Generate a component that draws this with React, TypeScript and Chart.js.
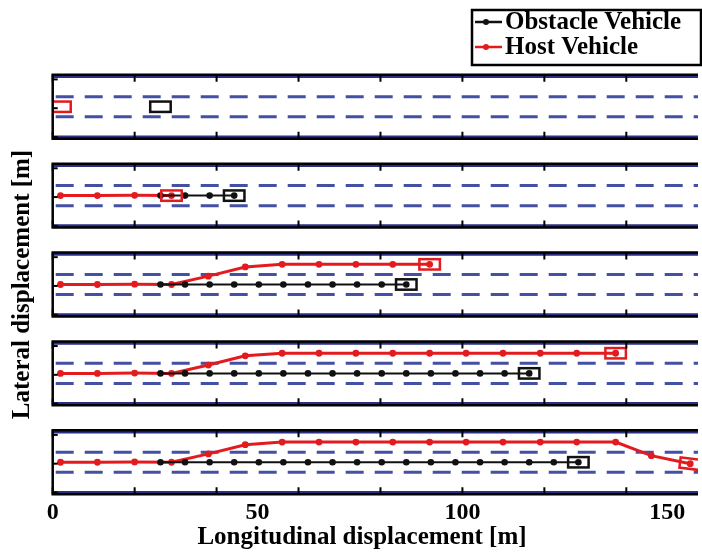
import React, { useEffect, useRef } from 'react';
import { Chart, registerables } from 'chart.js';

Chart.register(...registerables);

// ---- data ----
const hostX = [1.9, 10.9, 20.0, 29.0, 38.0, 47.0, 56.0, 65.0, 74.0, 83.0, 92.0, 100.9, 109.9, 119.0, 127.9, 137.4, 146.1, 155.6];
const hostY = [5.25, 5.25, 5.3, 5.25, 6.7, 8.3, 8.75, 8.75, 8.75, 8.75, 8.75, 8.75, 8.75, 8.75, 8.75, 8.75, 6.4, 5.0];
const obstacleX = [26.3, 32.3, 38.3, 44.3, 50.3, 56.3, 62.3, 68.3, 74.3, 80.3, 86.3, 92.3, 98.3, 104.3, 110.3, 116.3, 122.3, 128.3];
const obstacleY = [5.25, 5.25, 5.25, 5.25, 5.25, 5.25, 5.25, 5.25, 5.25, 5.25, 5.25, 5.25, 5.25, 5.25, 5.25, 5.25, 5.25, 5.25];
const snapshotSteps = [0, 3, 10, 15, 17];
const laneMarkings = [3.5, 7.0];
const roadEdges = [0, 10.5];
const xTickValues = [0, 20, 40, 60, 80, 100, 120, 140];
const yTickValues = [0, 5, 10];
const xLabelValues = [0, 50, 100, 150];
const seriesNames = ['Obstacle Vehicle', 'Host Vehicle'];
const xTitle = 'Longitudinal displacement [m]';
const yTitle = 'Lateral displacement [m]';

// ---- axis / style settings ----
const X_MAX = 157.5;
const PANEL_LO = -0.3;
const PANEL_HI = 10.8;
const PANEL_PERIOD = 15.44;
const VEH_LEN = 5;
const VEH_WID = 1.8;
const HOST_COLOR = '#e31b1f';
const OBST_COLOR = '#111111';
const DASH_COLOR = '#4450a4';
const EDGE_COLOR = '#2a2e84';
const FONT = "'Liberation Serif', 'Times New Roman', serif";

const roadPlugin = {
  id: 'roadPlugin',
  beforeDatasetsDraw(chart: any) {
    const { ctx, chartArea, scales } = chart;
    const xs = scales.x;
    ctx.save();
    ctx.beginPath();
    ctx.rect(chartArea.left, chartArea.top, chartArea.right - chartArea.left, chartArea.bottom - chartArea.top);
    ctx.clip();
    snapshotSteps.forEach((_, k) => {
      const ys = scales['y' + k];
      ctx.strokeStyle = DASH_COLOR;
      ctx.lineWidth = 3;
      ctx.setLineDash([18, 11]);
      laneMarkings.forEach((v) => {
        const py = ys.getPixelForValue(v);
        ctx.beginPath();
        ctx.moveTo(xs.getPixelForValue(0) + 3, py);
        ctx.lineTo(chartArea.right, py);
        ctx.stroke();
      });
      ctx.setLineDash([]);
      ctx.strokeStyle = EDGE_COLOR;
      ctx.lineWidth = 3;
      roadEdges.forEach((v) => {
        const py = ys.getPixelForValue(v);
        ctx.beginPath();
        ctx.moveTo(chartArea.left, py);
        ctx.lineTo(chartArea.right, py);
        ctx.stroke();
      });
    });
    ctx.restore();
  },
  afterDatasetsDraw(chart: any) {
    const { ctx, chartArea, scales } = chart;
    const xs = scales.x;
    const last = snapshotSteps.length - 1;
    // vehicle boxes
    ctx.save();
    ctx.beginPath();
    ctx.rect(chartArea.left, chartArea.top, chartArea.right - chartArea.left, chartArea.bottom - chartArea.top);
    ctx.clip();
    snapshotSteps.forEach((n, k) => {
      const ys = scales['y' + k];
      const drawBox = (xv: number, yv: number, color: string, angle: number) => {
        const cx = xs.getPixelForValue(xv);
        const cy = ys.getPixelForValue(yv);
        const w = xs.getPixelForValue(xv + VEH_LEN / 2) - xs.getPixelForValue(xv - VEH_LEN / 2);
        const h = ys.getPixelForValue(yv - VEH_WID / 2) - ys.getPixelForValue(yv + VEH_WID / 2);
        ctx.save();
        ctx.translate(cx, cy);
        ctx.rotate(angle);
        ctx.strokeStyle = color;
        ctx.lineWidth = 2.5;
        ctx.strokeRect(-w / 2, -h / 2, w, h);
        ctx.restore();
      };
      drawBox(obstacleX[n], obstacleY[n], OBST_COLOR, 0);
      let ang = 0;
      if (n > 0 && k === last) {
        const dx = xs.getPixelForValue(hostX[n]) - xs.getPixelForValue(hostX[n - 1]);
        const dy = ys.getPixelForValue(hostY[n]) - ys.getPixelForValue(hostY[n - 1]);
        ang = Math.atan2(dy, dx) * 0.6;
      }
      drawBox(hostX[n], hostY[n], HOST_COLOR, ang);
    });
    ctx.restore();

    // frames and tick marks
    ctx.save();
    snapshotSteps.forEach((_, k) => {
      const ys = scales['y' + k];
      const top = ys.getPixelForValue(PANEL_HI);
      const bot = ys.getPixelForValue(PANEL_LO);
      const left = chartArea.left;
      ctx.strokeStyle = '#000';
      ctx.lineWidth = 2.5;
      ctx.beginPath();
      ctx.moveTo(chartArea.right, top);
      ctx.lineTo(left, top);
      ctx.lineTo(left, bot);
      ctx.lineTo(chartArea.right, bot);
      ctx.stroke();
      ctx.lineWidth = 2;
      xTickValues.forEach((v) => {
        const px = xs.getPixelForValue(v);
        ctx.beginPath();
        ctx.moveTo(px, top);
        ctx.lineTo(px, top + 7);
        ctx.moveTo(px, bot);
        ctx.lineTo(px, bot - 7);
        ctx.stroke();
      });
      yTickValues.forEach((v) => {
        const py = ys.getPixelForValue(v);
        ctx.beginPath();
        ctx.moveTo(left, py);
        ctx.lineTo(left + 5, py);
        ctx.stroke();
      });
    });
    ctx.restore();
  },
  afterDraw(chart: any) {
    const { ctx } = chart;
    ctx.save();
    // legend
    const bx = 472, by = 10, bw = 229, bh = 55;
    ctx.fillStyle = '#fff';
    ctx.fillRect(bx, by, bw, bh);
    ctx.strokeStyle = '#000';
    ctx.lineWidth = 2.5;
    ctx.strokeRect(bx, by, bw, bh);
    const colors = [OBST_COLOR, HOST_COLOR];
    const rows = [22, 47];
    seriesNames.forEach((name, i) => {
      const y = rows[i];
      ctx.strokeStyle = colors[i];
      ctx.fillStyle = colors[i];
      ctx.lineWidth = 2.5;
      ctx.beginPath();
      ctx.moveTo(475, y);
      ctx.lineTo(502, y);
      ctx.stroke();
      ctx.beginPath();
      ctx.arc(486, y, 3, 0, Math.PI * 2);
      ctx.fill();
      ctx.fillStyle = '#000';
      ctx.font = `bold 25px ${FONT}`;
      ctx.textAlign = 'left';
      ctx.textBaseline = 'middle';
      ctx.fillText(name, 505, y + 1);
    });
    // x-axis title
    ctx.fillStyle = '#000';
    ctx.font = `bold 25px ${FONT}`;
    ctx.textAlign = 'center';
    ctx.textBaseline = 'middle';
    ctx.fillText(xTitle, 362, 538);
    ctx.restore();
  },
};

export default function App() {
  const ref = useRef<HTMLCanvasElement>(null);
  useEffect(() => {
    const canvas = ref.current!;
    const last = snapshotSteps.length - 1;
    const datasets: any[] = [];
    snapshotSteps.forEach((n, k) => {
      const showPts = n > 0;
      datasets.push({
        label: seriesNames[0],
        data: obstacleX.slice(0, n + 1).map((x, i) => ({ x, y: obstacleY[i] })),
        yAxisID: 'y' + k,
        borderColor: OBST_COLOR,
        backgroundColor: OBST_COLOR,
        borderWidth: 2,
        pointRadius: showPts ? 3.3 : 0,
        pointBorderWidth: 0,
        tension: 0,
      });
      datasets.push({
        label: seriesNames[1],
        data: hostX.slice(0, n + 1).map((x, i) => ({ x, y: hostY[i] })),
        yAxisID: 'y' + k,
        borderColor: HOST_COLOR,
        backgroundColor: HOST_COLOR,
        borderWidth: 3,
        pointRadius: showPts ? 3.4 : 0,
        pointBorderWidth: 0,
        tension: 0,
      });
    });
    const scales: any = {
      x: {
        type: 'linear',
        min: 0,
        max: X_MAX,
        grid: { display: false, drawTicks: false },
        border: { display: false },
        afterBuildTicks: (ax: any) => {
          ax.ticks = xLabelValues.map((v) => ({ value: v }));
        },
        ticks: {
          autoSkip: false,
          maxRotation: 0,
          padding: 4,
          color: '#000',
          font: { family: FONT, size: 24, weight: 'bold' },
        },
      },
    };
    snapshotSteps.forEach((_, k) => {
      scales['y' + k] = {
        type: 'linear',
        position: 'left',
        min: PANEL_LO - (last - k) * PANEL_PERIOD,
        max: PANEL_HI + k * PANEL_PERIOD,
        display: k === last,
        grid: { display: false, drawTicks: false },
        border: { display: false },
        ticks: { display: false },
        title: {
          display: true,
          text: yTitle,
          color: '#000',
          font: { family: FONT, size: 25, weight: 'bold' },
          padding: { top: 5, bottom: 15 },
        },
      };
    });
    const chart = new Chart(canvas, {
      type: 'line',
      data: { datasets },
      options: {
        responsive: false,
        animation: false,
        events: [],
        layout: { padding: { left: 2.7, top: 74.8, right: 0, bottom: 22 } },
        plugins: { legend: { display: false }, tooltip: { enabled: false } },
        scales,
      } as any,
      plugins: [roadPlugin],
    });
    return () => chart.destroy();
  }, []);
  return (
    <canvas
      ref={ref}
      width={702}
      height={553}
      style={{ position: 'absolute', left: 0, top: 0, display: 'block' }}
    />
  );
}
